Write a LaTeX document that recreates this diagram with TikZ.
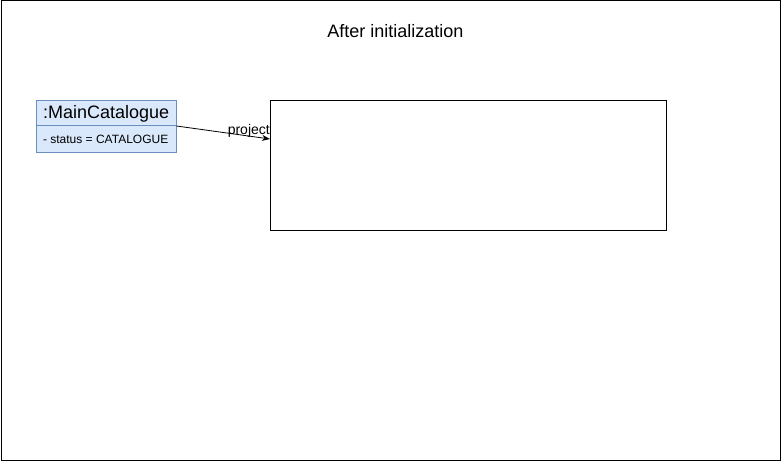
\documentclass[tikz,border=0pt]{standalone}
\usepackage{fontspec}
\setmainfont{Liberation Sans}
\usetikzlibrary{arrows.meta}
\definecolor{umlfill}{HTML}{DAE8FC}
\definecolor{umlline}{HTML}{6C8EBF}
\begin{document}
\begin{tikzpicture}[x=1pt,y=-1pt,
  frame/.style={draw=black,line width=1pt},
  objbox/.style={draw=umlline,fill=umlfill,line width=0.8pt},
  conn/.style={draw=black,line width=0.8pt,-{Stealth[length=8pt,width=6pt]}}]
\useasboundingbox (0,0) rectangle (782,462);
\draw[frame] (1,1) rectangle (780.5,460.5);
\node[font=\fontsize{18}{21}\selectfont] (title) at (395.5,31) {After initialization};
% object box
\draw[objbox] (36.5,100.5) rectangle (176.5,152.5);
\draw[umlline,line width=0.8pt] (36.5,125.5) -- (176.5,125.5);
\node[font=\fontsize{18}{21}\selectfont,anchor=west] (objname) at (39.5,114) {:MainCatalogue};
\node[font=\fontsize{12}{14}\selectfont,anchor=west] (objattr) at (39.5,139.5) {- status = CATALOGUE};
\coordinate (objR) at (176.5,126);
% container
\node[draw=black,line width=1pt,minimum width=396pt,minimum height=130pt,inner sep=0pt,anchor=north west] (proj) at (270,100.5) {};
\coordinate (projL) at (270,139);
\draw[conn] (objR) -- (projL);
\node[font=\fontsize{14}{16}\selectfont,anchor=east,inner sep=0pt] (plabel) at (270,131) {project};
\end{tikzpicture}
\end{document}
